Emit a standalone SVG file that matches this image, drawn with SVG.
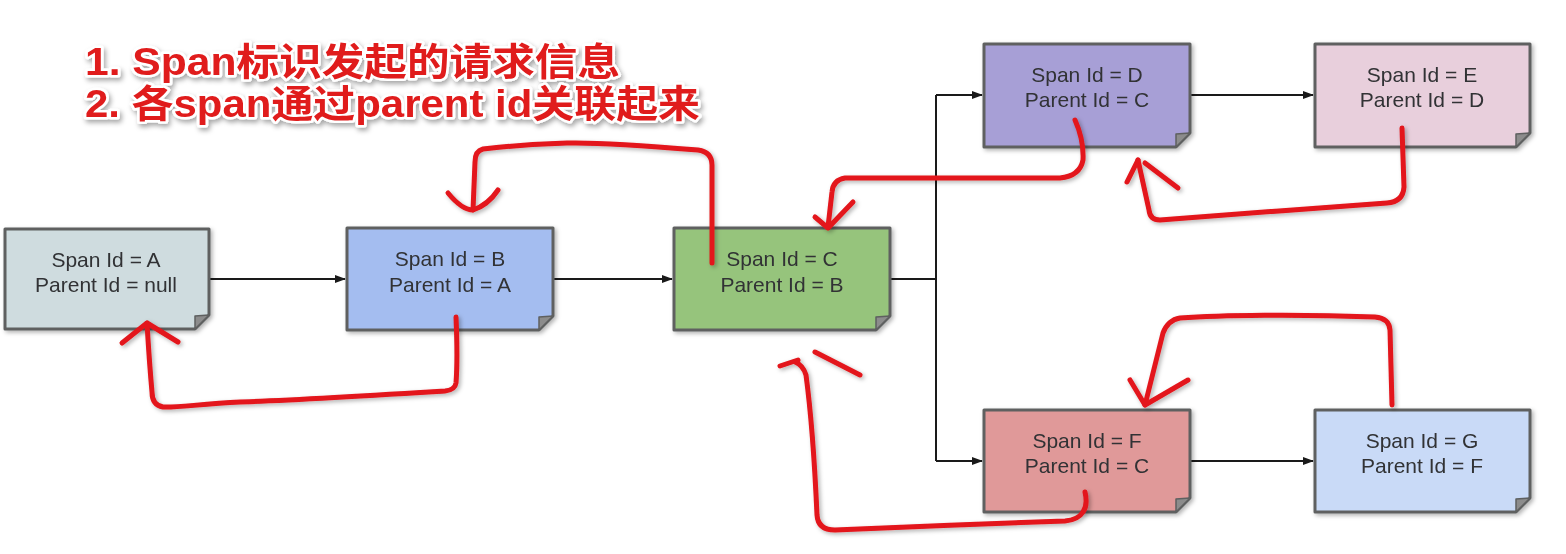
<svg xmlns="http://www.w3.org/2000/svg" width="1566" height="554" viewBox="0 0 1566 554">
<defs>
<marker id="arr" markerWidth="11" markerHeight="8" refX="10" refY="4" orient="auto" markerUnits="userSpaceOnUse">
<path d="M0,0 L11,4 L0,8 Z" fill="#1a1a1a"/>
</marker>
<filter id="sh" x="-10%" y="-10%" width="130%" height="130%">
<feDropShadow dx="2" dy="2" stdDeviation="2" flood-color="#000" flood-opacity="0.3"/>
</filter>
<filter id="tsh" x="-5%" y="-20%" width="115%" height="160%">
<feDropShadow dx="2" dy="3" stdDeviation="2.5" flood-color="#000" flood-opacity="0.35"/>
</filter>
</defs>
<style>
.box{stroke:#5e6060;stroke-width:3;stroke-linejoin:round}
.fold{fill:#8c8c8c;stroke:#5e6060;stroke-width:1.5;stroke-linejoin:round}
.lbl{font-family:"Liberation Sans",Arial,sans-serif;font-size:21px;text-anchor:middle;fill:#303234}
.conn{fill:none;stroke:#1a1a1a;stroke-width:2}
.red{fill:none;stroke:#e3141b;stroke-width:5;stroke-linecap:round;stroke-linejoin:round}
.title{font-family:"Liberation Sans","Noto Sans CJK SC",sans-serif;font-size:38px;font-weight:bold;fill:#e01b1b;stroke:#ffffff;stroke-width:5;paint-order:stroke;stroke-linejoin:round}
</style>
<rect width="1566" height="554" fill="#ffffff"/>

<g id="title" filter="url(#tsh)">
<text class="title" x="85" y="75" textLength="535" lengthAdjust="spacingAndGlyphs">1. Span标识发起的请求信息</text>
<text class="title" x="85" y="117" textLength="615" lengthAdjust="spacingAndGlyphs">2. 各span通过parent id关联起来</text>
</g>

<g id="connectors">
<path class="conn" d="M209,279 H345" marker-end="url(#arr)"/>
<path class="conn" d="M553,279 H672" marker-end="url(#arr)"/>
<path class="conn" d="M890,279 H936"/>
<path class="conn" d="M936,95 V461"/>
<path class="conn" d="M936,95 H982" marker-end="url(#arr)"/>
<path class="conn" d="M936,461 H982" marker-end="url(#arr)"/>
<path class="conn" d="M1190,95 H1313" marker-end="url(#arr)"/>
<path class="conn" d="M1190,461 H1313" marker-end="url(#arr)"/>
</g>

<g id="nodeA" filter="url(#sh)">
<path class="box" fill="#cfdcdf" d="M5,229 H209 V315 L195,329 H5 Z"/>
<path class="fold" d="M209,315 L195,329 L195,316 Z"/>
<text class="lbl" x="106" y="267">Span Id = A</text>
<text class="lbl" x="106" y="292">Parent Id = null</text>
</g>
<g id="nodeB" filter="url(#sh)">
<path class="box" fill="#a4bdf0" d="M347,228 H553 V316 L539,330 H347 Z"/>
<path class="fold" d="M553,316 L539,330 L539,317 Z"/>
<text class="lbl" x="450" y="266">Span Id = B</text>
<text class="lbl" x="450" y="292">Parent Id = A</text>
</g>
<g id="nodeC" filter="url(#sh)">
<path class="box" fill="#96c47c" d="M674,228 H890 V316 L876,330 H674 Z"/>
<path class="fold" d="M890,316 L876,330 L876,317 Z"/>
<text class="lbl" x="782" y="266">Span Id = C</text>
<text class="lbl" x="782" y="292">Parent Id = B</text>
</g>
<g id="nodeD" filter="url(#sh)">
<path class="box" fill="#a79fd6" d="M984,44 H1190 V133 L1176,147 H984 Z"/>
<path class="fold" d="M1190,133 L1176,147 L1176,134 Z"/>
<text class="lbl" x="1087" y="82">Span Id = D</text>
<text class="lbl" x="1087" y="107">Parent Id = C</text>
</g>
<g id="nodeE" filter="url(#sh)">
<path class="box" fill="#e8cfdc" d="M1315,44 H1530 V133 L1516,147 H1315 Z"/>
<path class="fold" d="M1530,133 L1516,147 L1516,134 Z"/>
<text class="lbl" x="1422" y="82">Span Id = E</text>
<text class="lbl" x="1422" y="107">Parent Id = D</text>
</g>
<g id="nodeF" filter="url(#sh)">
<path class="box" fill="#e09999" d="M984,410 H1190 V498 L1176,512 H984 Z"/>
<path class="fold" d="M1190,498 L1176,512 L1176,499 Z"/>
<text class="lbl" x="1087" y="448">Span Id = F</text>
<text class="lbl" x="1087" y="473">Parent Id = C</text>
</g>
<g id="nodeG" filter="url(#sh)">
<path class="box" fill="#c9daf7" d="M1315,410 H1530 V498 L1516,512 H1315 Z"/>
<path class="fold" d="M1530,498 L1516,512 L1516,499 Z"/>
<text class="lbl" x="1422" y="448">Span Id = G</text>
<text class="lbl" x="1422" y="473">Parent Id = F</text>
</g>

<g id="annotations" filter="url(#sh)">
<path class="red" d="M456,317 C457,340 457,370 456,383 Q455,390 445,391 C380,395 300,400 240,402 C200,404 175,408 163,407 Q152,405 152,392 C150,370 148,340 147,323"/>
<path class="red" d="M122,343 L147,323 L178,342"/>
<path class="red" d="M712,263 L712,165 Q712,152 698,150 C650,146 600,142 567,143 C530,144 500,147 483,149 Q475,151 475,162 L473,210"/>
<path class="red" d="M448,193 Q462,210 473,210 Q488,205 498,190"/>
<path class="red" d="M1075,120 Q1084,140 1083,160 Q1080,176 1060,178 L845,178 Q833,180 832,192 L828,227"/>
<path class="red" d="M815,217 L828,228 L853,202"/>
<path class="red" d="M1402,128 L1404,187 Q1403,202 1387,203 C1320,208 1220,215 1160,220 Q1150,220 1149,210 L1138,160"/>
<path class="red" d="M1127,182 L1138,160"/>
<path class="red" d="M1145,163 L1178,188"/>
<path class="red" d="M1085,492 Q1088,505 1083,512 Q1078,520 1065,521 C1000,523 900,527 835,530 Q818,530 817,515 C815,470 812,420 806,375 Q803,365 795,362"/>
<path class="red" d="M780,366 L798,360"/>
<path class="red" d="M815,352 L860,375"/>
<path class="red" d="M1392,405 L1390,330 Q1389,318 1375,317 C1300,314 1220,315 1180,318 Q1168,320 1163,333 L1145,405"/>
<path class="red" d="M1130,380 L1145,405 L1188,380"/>
</g>
</svg>
